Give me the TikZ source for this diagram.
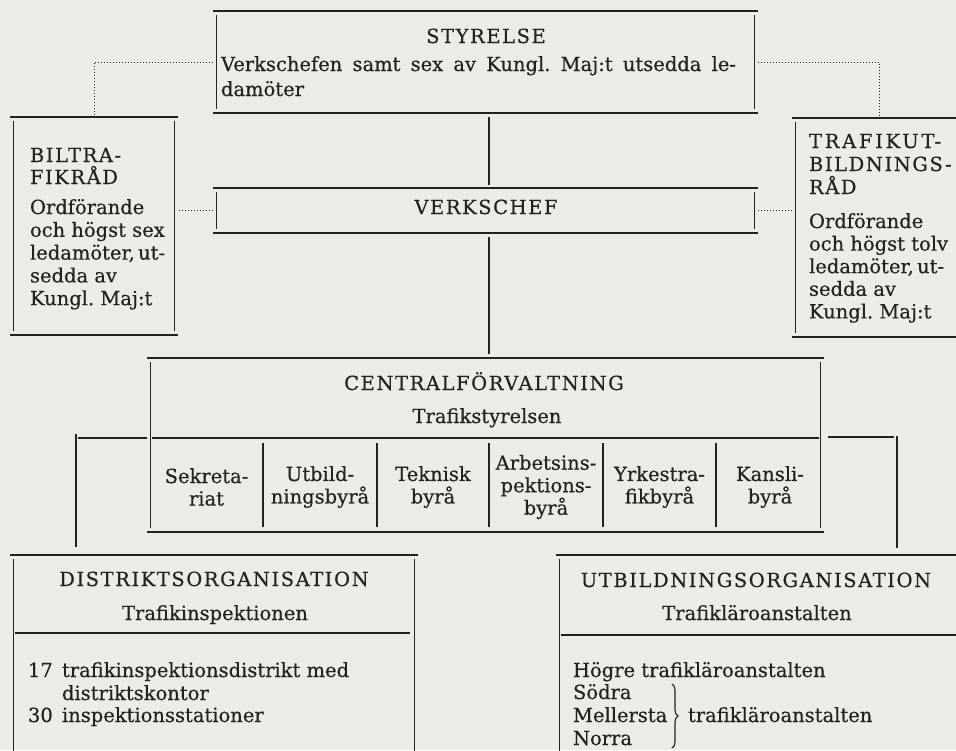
\documentclass[tikz,border=0pt]{standalone}
\usepackage{fontspec}
\setmainfont{DejaVu Serif}[FakeBold=0.45]
\usetikzlibrary{calc,decorations.pathreplacing}
\definecolor{paper}{RGB}{236,236,231}
\definecolor{ink}{RGB}{34,34,34}
\newcommand\obox[1]{%
  \draw[hl] (#1.north west) -- (#1.north east);
  \draw[hl] (#1.south west) -- (#1.south east);
  \draw[vl] ([shift={(3.5pt,-4pt)}]#1.north west) -- ([shift={(3.5pt,4pt)}]#1.south west);
  \draw[vl] ([shift={(-3.5pt,-4pt)}]#1.north east) -- ([shift={(-3.5pt,4pt)}]#1.south east);}
\tikzset{
  txt/.style={inner sep=0pt, outer sep=0pt, text=ink, font=\fontsize{19.5}{22.5}\selectfont\frenchspacing},
  caps/.style={inner sep=0pt, outer sep=0pt, text=ink, font=\fontsize{19.5}{22.5}\selectfont\addfontfeature{LetterSpace=8}},
  cell/.style={txt, align=center},
  hl/.style={draw=ink, line width=1.4pt},
  vl/.style={draw=ink, line width=1.1pt},
  dots/.style={draw=ink, line width=1pt, dash pattern=on 1pt off 2pt},
  boxn/.style={rectangle, draw=none, inner sep=0pt, outer sep=0pt},
}
\begin{document}
\begin{tikzpicture}[x=1pt,y=-1pt]
\fill[paper] (0,0) rectangle (956,750);
\useasboundingbox (0,0) rectangle (956,750);
\begin{scope}
\clip (0,0) rectangle (956,750);

% box frames (named nodes)
\node[boxn, minimum width=545pt, minimum height=102pt] (sty) at (485.5,62) {};
\node[boxn, minimum width=545pt, minimum height=45pt]  (verk) at (485.5,210.5) {};
\node[boxn, minimum width=168pt, minimum height=218pt] (bil) at (94,226) {};
\node[boxn, minimum width=174pt, minimum height=219pt] (tra) at (879,227.5) {};
\node[boxn, minimum width=677pt, minimum height=174pt] (cen) at (485.5,445) {};
\node[boxn, minimum width=408pt, minimum height=230pt] (dis) at (214,670) {};
\node[boxn, minimum width=420pt, minimum height=230pt] (utb) at (766,670) {};

\obox{sty}
\obox{verk}
\obox{bil}
\obox{tra}
\obox{cen}
\obox{dis}
\obox{utb}

% inner header lines
\draw[hl] (152,438) -- (819,438);
\draw[hl] (15,633) -- (410,633);
\draw[hl] (561,635) -- (970,635);
\foreach \x in {263,377,489,603,716} \draw[vl] (\x,443) -- (\x,527);

% solid connectors
\draw[vl] ([shift={(3.5pt,-4pt)}]sty.south) -- ([shift={(3.5pt,3pt)}]verk.north);
\draw[vl] ([shift={(3.5pt,-4pt)}]verk.south) -- ([shift={(3.5pt,4pt)}]cen.north);
\coordinate (lb) at (76,438);
\coordinate (rb) at (897,437);
\draw[hl] (cen.west |- lb) -- ([xshift=2pt]lb);
\draw[vl] ([yshift=4pt]lb) -- ([yshift=8pt]lb |- dis.north);
\draw[hl] ([xshift=4pt]cen.east |- rb) -- ([xshift=-3pt]rb);
\draw[vl] ([yshift=1pt]rb) -- ([yshift=7pt]rb |- utb.north);

% dotted connectors
\draw[dots] (sty.west) -| ([yshift=2pt]bil.north);
\draw[dots] (sty.east) -| ([yshift=2pt]tra.north);
\draw[dots] (verk.west) -- (verk.west -| bil.east);
\draw[dots] (verk.east) -- (verk.east -| tra.west);

% STYRELSE
\node[caps, anchor=base] (styt) at (486,43) {STYRELSE};
\node[txt, anchor=base west] (sty1) at (221,71) {\makebox[515pt][s]{Verkschefen samt sex av Kungl. Maj:t utsedda le-}};
\node[txt, anchor=base west] (sty2) at (221,96) {damöter};

% VERKSCHEF
\node[caps, anchor=base] (verkt) at (486,214) {VERKSCHEF};

% BILTRAFIKRÅD
\node[caps, anchor=base west] (bil1) at (30,162) {BILTRA-};
\node[caps, anchor=base west] (bil2) at (30,184) {FIKRÅD};
\foreach \t [count=\i] in {Ordförande, och högst sex, {ledamöter,\thinspace ut-}, sedda av, Kungl. Maj:t}
  \node[txt, anchor=base west] (bilb\i) at (30,{214+22.8*(\i-1)}) {\t};

% TRAFIKUTBILDNINGSRÅD
\node[caps, anchor=base west] (tra1) at (809,148) {\addfontfeature{LetterSpace=14}TRAFIKUT-};
\node[caps, anchor=base west] (tra2) at (809,171) {BILDNINGS-};
\node[caps, anchor=base west] (tra3) at (809,194) {RÅD};
\foreach \t [count=\i] in {Ordförande, och högst tolv, {ledamöter,\thinspace ut-}, sedda av, Kungl. Maj:t}
  \node[txt, anchor=base west] (trab\i) at (809,{228+22.6*(\i-1)}) {\t};

% CENTRALFÖRVALTNING
\node[caps, anchor=base] (cent) at (484,390) {CENTRALFÖRVALTNING};
\node[txt, anchor=base] (cens) at (487,423) {Trafikstyrelsen};
\node[cell] (c1) at (206.5,487) {Sekreta-\\riat};
\node[cell] (c2) at (320,487) {Utbild-\\ningsbyrå};
\node[cell] (c3) at (433,487) {Teknisk\\byrå};
\node[cell] (c4) at (546,487) {Arbetsins-\\pektions-\\byrå};
\node[cell] (c5) at (659.5,487) {Yrkestra-\\fikbyrå};
\node[cell] (c6) at (770,487) {Kansli-\\byrå};

% DISTRIKTSORGANISATION
\node[caps, anchor=base] (dist) at (214,586) {DISTRIKTSORGANISATION};
\node[txt, anchor=base] (diss) at (215,620) {Trafikinspektionen};
\node[txt, anchor=base west] (d1n) at (28,677) {17};
\node[txt, anchor=base west] (d1) at (62,677) {trafikinspektionsdistrikt med};
\node[txt, anchor=base west] (d2) at (62,700) {distriktskontor};
\node[txt, anchor=base west] (d3n) at (28,722) {30};
\node[txt, anchor=base west] (d3) at (62,722) {inspektionsstationer};

% UTBILDNINGSORGANISATION
\node[caps, anchor=base] (utbt) at (756,587) {UTBILDNINGSORGANISATION};
\node[txt, anchor=base] (utbs) at (757,620) {Trafikläroanstalten};
\node[txt, anchor=base west] (u1) at (573,677) {Högre trafikläroanstalten};
\node[txt, anchor=base west] (u2) at (573,699) {Södra};
\node[txt, anchor=base west] (u3) at (573,722) {Mellersta};
\node[txt, anchor=base west] (u4) at (573,745) {Norra};
\coordinate (bt) at (672,684);
\coordinate (bb) at (672,748);
\draw[draw=ink, line width=1.1pt, decorate, decoration={brace, amplitude=6pt}] (bt) -- (bb);
\node[txt, anchor=base west] (u5) at (688,722) {trafikläroanstalten};
\end{scope}
\end{tikzpicture}
\end{document}
